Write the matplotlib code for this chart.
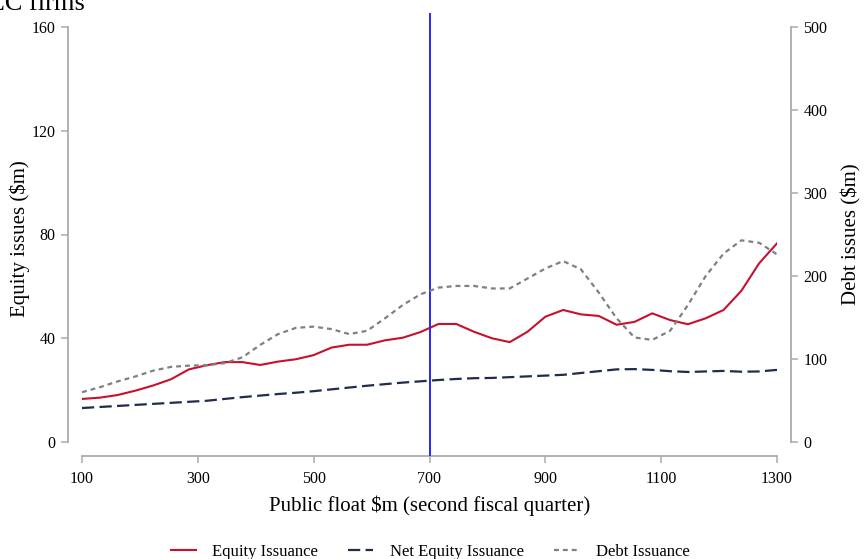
import matplotlib
matplotlib.use("Agg")
import matplotlib.pyplot as plt
import matplotlib.transforms as mtransforms

plt.rcParams['font.family'] = ['Liberation Serif', 'DejaVu Serif']

# Public float bins ($m, second fiscal quarter)
public_float = [100.0, 130.8, 161.5, 192.3, 223.1, 253.8, 284.6, 315.4, 346.2, 376.9,
                407.7, 438.5, 469.2, 500.0, 530.8, 561.5, 592.3, 623.1, 653.8, 684.6,
                715.4, 746.2, 776.9, 807.7, 838.5, 869.2, 900.0, 930.8, 961.5, 992.3,
                1023.1, 1053.8, 1084.6, 1115.4, 1146.2, 1176.9, 1207.7, 1238.5, 1269.2, 1300.0]

# Equity issues ($m), left axis
equity_issuance = [16.6, 17.1, 18.1, 19.8, 21.8, 24.2, 28.0, 29.6, 30.8, 30.8,
                   29.7, 31.0, 31.9, 33.5, 36.4, 37.5, 37.5, 39.2, 40.2, 42.4,
                   45.5, 45.5, 42.5, 40.0, 38.5, 42.5, 48.3, 50.9, 49.2, 48.6,
                   45.2, 46.3, 49.6, 47.0, 45.4, 47.7, 50.9, 58.3, 68.9, 76.6]
net_equity_issuance = [13.1, 13.5, 13.9, 14.3, 14.7, 15.1, 15.5, 15.9, 16.6, 17.3,
                       17.9, 18.5, 19.0, 19.6, 20.3, 21.0, 21.7, 22.3, 22.9, 23.4,
                       23.9, 24.3, 24.6, 24.7, 25.0, 25.3, 25.6, 25.9, 26.6, 27.3,
                       28.0, 28.1, 27.8, 27.3, 27.0, 27.2, 27.4, 27.1, 27.2, 27.8]

# Debt issues ($m), right axis
debt_issuance = [60, 66, 73, 79, 86, 90.5, 92, 92.5, 95, 102,
                 117, 130, 137.5, 139, 136, 130, 134, 149, 165, 178,
                 186, 188, 188, 185, 185, 197, 209, 218, 208, 180,
                 149, 126, 123, 134, 165, 200, 227, 243, 240, 226]

threshold = 700

x_ticks = [100, 300, 500, 700, 900, 1100, 1300]
left_ticks = [0, 40, 80, 120, 160]
right_ticks = [0, 100, 200, 300, 400, 500]

spine_gray = '#ababab'
red = '#c8102e'
navy = '#1f2c4c'
gray = '#808080'

fig = plt.figure(figsize=(8.64, 5.59), dpi=100)
ax = fig.add_axes([82 / 864, 1 - 442 / 559, (777 - 82) / 864, 415 / 559])
ax2 = ax.twinx()

l1, = ax.plot(public_float, equity_issuance, color=red, lw=1.5, label='Equity Issuance')
l2, = ax.plot(public_float, net_equity_issuance, color=navy, lw=1.6,
              dashes=(5.5, 2.4), label='Net Equity Issuance')
l3, = ax2.plot(public_float, debt_issuance, color=gray, lw=1.6,
               dashes=(2.2, 1.8), label='Debt Issuance')

trans = mtransforms.blended_transform_factory(ax.transData, ax.transAxes)
ax.plot([threshold, threshold], [-0.031, 1.031], color='#2626ff', lw=1.4,
        transform=trans, clip_on=False, zorder=5)

ax.set_xlim(100, 1300)
ax.set_ylim(0, 160)
ax2.set_ylim(0, 500)

ax.set_xticks(x_ticks)
ax.set_yticks(left_ticks)
ax2.set_yticks(right_ticks)

for a in (ax, ax2):
    for s in a.spines.values():
        s.set_visible(False)
    a.patch.set_visible(False)

ax.spines['left'].set_visible(True)
ax.spines['bottom'].set_visible(True)
ax2.spines['right'].set_visible(True)
ax.spines['left'].set_position(('outward', 10))
ax.spines['bottom'].set_position(('outward', 10))
ax2.spines['right'].set_position(('outward', 10))
for s in (ax.spines['left'], ax.spines['bottom'], ax2.spines['right']):
    s.set_color(spine_gray)
    s.set_linewidth(1.3)

ax.tick_params(axis='both', direction='out', length=5, width=1.1, color=spine_gray,
               labelsize=11.5, labelcolor='black', pad=4)
ax2.tick_params(axis='y', direction='out', length=5, width=1.1, color=spine_gray,
                labelsize=11.5, labelcolor='black', pad=4)
ax.tick_params(axis='x', pad=6)

ax.set_xlabel('Public float $m (second fiscal quarter)', fontsize=15, labelpad=6)
ax.set_ylabel('Equity issues ($m)', fontsize=15, va='center')
ax2.set_ylabel('Debt issues ($m)', fontsize=15, va='center')
ax.yaxis.set_label_coords((20 - 82) / 695, 0.49)
ax2.yaxis.set_label_coords((851 - 82) / 695, 0.5)

fig.text(85 / 864, 1 - 10 / 559, 'SEC firms', fontsize=19, ha='right', va='baseline')

fig.legend(handles=[l1, l2, l3], loc='center', bbox_to_anchor=(430 / 864, 1 - 552 / 559),
           ncol=3, frameon=False, fontsize=12, handlelength=1.5, columnspacing=1.8,
           handletextpad=1.0)

fig.savefig('out.png', dpi=100)
